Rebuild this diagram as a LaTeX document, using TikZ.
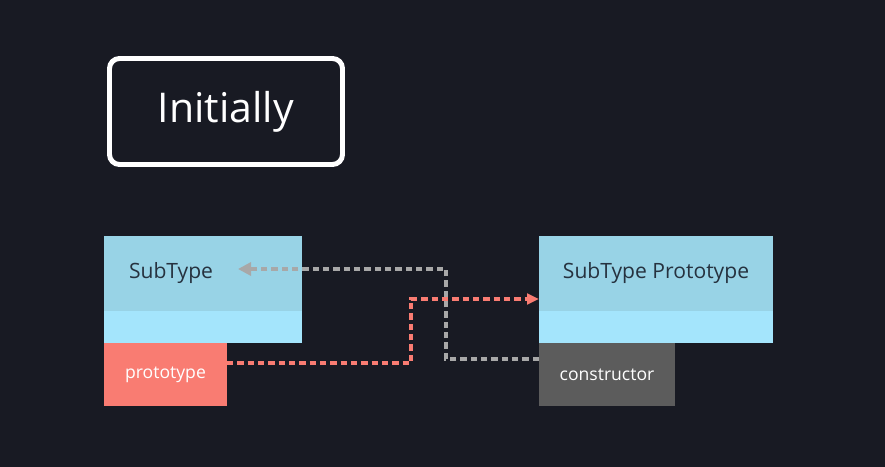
\documentclass[tikz,border=0pt]{standalone}
\usepackage{fontspec}
\setmainfont{Open Sans}
\usetikzlibrary{calc,positioning,arrows.meta}
\definecolor{fondo}{RGB}{24,26,35}
\definecolor{azulTop}{RGB}{152,211,230}
\definecolor{azulBot}{RGB}{164,229,252}
\definecolor{rojoBox}{RGB}{249,124,114}
\definecolor{grisBox}{RGB}{92,92,92}
\definecolor{grisLine}{RGB}{168,168,168}
\definecolor{textoOsc}{RGB}{38,50,63}
\tikzset{
  objtop/.style={fill=azulTop, inner ysep=0pt, outer sep=0pt, minimum height=2.25cm,
    font=\fontsize{18}{20}\selectfont, text=textoOsc},
  objbot/.style={fill=azulBot, inner sep=0pt, outer sep=0pt, minimum height=0.96cm},
  slot/.style={inner sep=0pt, outer sep=0pt, minimum height=1.89cm,
    font=\fontsize{15}{17}\selectfont, text=white},
  link/.style={line width=2.9pt, dash pattern=on 0.19cm off 0.12cm},
}
\begin{document}
\begin{tikzpicture}
  \fill[fondo] (0,0) rectangle (26.55,-14.01);
  % title
  \node[draw=white, line width=4.25pt, rounded corners=0.3cm,
    minimum width=6.99cm, minimum height=3.18cm, text=white,
    font=\fontsize{35}{40}\selectfont] (title) at (6.78,-3.345) {Initially};
  % SubType object
  \node[objtop, anchor=north west, text width=4.44cm, inner xsep=0.75cm,
    align=left] (sub) at (3.12,-7.08) {SubType};
  \node[objbot, anchor=north west, minimum width=5.94cm] (subbot)
    at (sub.south west) {};
  \node[slot, fill=rojoBox, anchor=north west, minimum width=3.69cm] (proto)
    at (subbot.south west) {prototype};
  % SubType Prototype object
  \node[objtop, anchor=north west, minimum width=7.02cm, inner xsep=0pt]
    (subproto) at (16.17,-7.08) {SubType Prototype};
  \node[objbot, anchor=north west, minimum width=7.02cm] (subprotobot)
    at (subproto.south west) {};
  \node[slot, fill=grisBox, anchor=north west, minimum width=4.08cm] (ctor)
    at (subprotobot.south west) {constructor};
  % links
  \coordinate (redstart) at ($(proto.north east)!0.32!(proto.south east)$);
  \coordinate (redend) at ($(subproto.north west)!0.84!(subproto.south west)$);
  \draw[link, rojoBox, -{Triangle[length=0.36cm, width=0.32cm]}]
    (redstart) -| ([xshift=-3.84cm]redend) -- (redend);
  \coordinate (graystart) at ($(ctor.north west)!0.254!(ctor.south west)$);
  \coordinate (subtip) at ([xshift=1.05cm, yshift=0.135cm]sub.center);
  \draw[link, grisLine, -{Triangle[length=0.39cm, width=0.39cm]}]
    (graystart) -| ([xshift=6.24cm]subtip) -- (subtip);
\end{tikzpicture}
\end{document}
